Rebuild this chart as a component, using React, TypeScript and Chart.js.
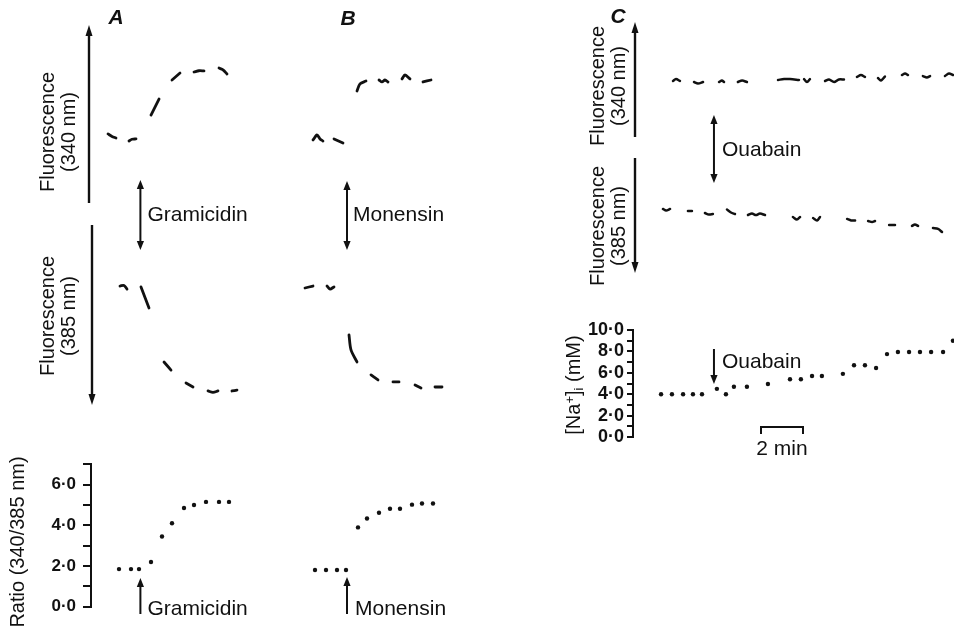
import React, { useEffect, useRef } from 'react';
import { Chart, registerables } from 'chart.js';

Chart.register(...registerables);

const INK = '#111111';
const FONT = "'Liberation Sans', Arial, Helvetica, sans-serif";
Chart.defaults.font.family = FONT;

type Pt = [number, number];

// ---------------- DATA ----------------
// Panel A – gramicidin (time in min, fluorescence in arbitrary units 0-100)
const gramicidin340: Pt[][] = [
  [[0.9, 38.8], [1.1, 37.4], [1.3, 36.5]],
  [[1.95, 34.8], [2.1, 35.8], [2.3, 36.0]],
  [[3.05, 49.4], [3.45, 58.4]],
  [[4.1, 69.1], [4.5, 73.0]],
  [[5.2, 73.6], [5.45, 74.3], [5.7, 74.2]],
  [[6.45, 75.8], [6.65, 74.8], [6.85, 72.5]],
];
const gramicidin385: Pt[][] = [
  [[1.5, 66.1], [1.7, 66.4], [1.85, 64.4]],
  [[2.55, 65.6], [2.95, 53.9]],
  [[3.7, 23.9], [4.05, 19.4]],
  [[4.8, 12.2], [5.15, 10.0]],
  [[5.9, 7.8], [6.15, 7.0], [6.4, 7.8]],
  [[7.1, 7.8], [7.35, 8.3]],
];
const gramicidinTime = [1.45, 2.05, 2.45, 3.05, 3.6, 4.1, 4.7, 5.2, 5.8, 6.45, 6.95];
const gramicidinRatio = [1.85, 1.85, 1.85, 2.2, 3.45, 4.1, 4.85, 5.0, 5.15, 5.15, 5.15];
const gramicidinAdded = 2.52;

// Panel B – monensin
const monensin340: Pt[][] = [
  [[0.65, 35.4], [0.85, 38.2], [1.0, 36.0], [1.15, 34.8]],
  [[1.7, 36.0], [2.15, 33.7]],
  [[2.85, 62.9], [3.0, 66.9], [3.3, 68.5]],
  [[3.95, 69.1], [4.1, 68.0], [4.25, 69.1], [4.4, 68.0]],
  [[5.1, 69.7], [5.25, 71.9], [5.5, 69.7]],
  [[6.15, 68.0], [6.55, 69.1]],
];
const monensin385: Pt[][] = [
  [[0.25, 65.0], [0.65, 66.1]],
  [[1.35, 66.1], [1.5, 64.4], [1.7, 65.6]],
  [[2.45, 38.9], [2.55, 30.6], [2.85, 23.9]],
  [[3.55, 16.7], [3.9, 13.9]],
  [[4.65, 12.8], [4.95, 12.8]],
  [[5.75, 11.1], [6.05, 9.4]],
  [[6.75, 10.0], [7.1, 10.0]],
];
const monensinTime = [0.75, 1.3, 1.85, 2.3, 2.9, 3.35, 3.95, 4.5, 5.0, 5.6, 6.1, 6.65];
const monensinRatio = [1.88, 1.88, 1.88, 1.88, 3.88, 4.3, 4.57, 4.76, 4.76, 4.95, 5.0, 5.0];
const monensinAdded = 2.35;

// Panel C – ouabain
const ouabain340: Pt[][] = [
  [[1.81, 48.7], [1.95, 50.4], [2.14, 48.7]],
  [[2.81, 47.8], [3.0, 46.5], [3.24, 47.8]],
  [[4.0, 47.8], [4.14, 49.1], [4.24, 47.8]],
  [[4.9, 47.8], [5.1, 49.1], [5.33, 47.8]],
  [[6.81, 49.6], [7.1, 50.4], [7.38, 50.4], [7.81, 49.6]],
  [[8.05, 50.4], [8.19, 47.8], [8.33, 50.4]],
  [[9.05, 48.7], [9.24, 50.0], [9.48, 47.8], [9.71, 50.0], [9.95, 50.0]],
  [[10.57, 52.2], [10.76, 53.9], [10.95, 52.2]],
  [[11.57, 51.3], [11.71, 49.1], [11.9, 52.6]],
  [[12.71, 53.9], [12.86, 55.2], [13.0, 53.9]],
  [[13.71, 53.0], [13.9, 51.7], [14.05, 53.0]],
  [[14.76, 53.0], [14.95, 55.2], [15.14, 53.9]],
];
const ouabain385: Pt[][] = [
  [[1.33, 55.7], [1.48, 54.3], [1.67, 55.7]],
  [[2.52, 53.9], [2.71, 53.9]],
  [[3.33, 52.2], [3.52, 50.8], [3.71, 51.3]],
  [[4.38, 55.2], [4.57, 52.6], [4.76, 51.3]],
  [[5.38, 50.4], [5.57, 51.7], [5.76, 50.4], [5.95, 51.7], [6.19, 50.4]],
  [[7.52, 48.7], [7.71, 46.5], [7.86, 48.7]],
  [[8.48, 47.8], [8.67, 45.7], [8.81, 48.7]],
  [[10.1, 47.0], [10.29, 45.7], [10.48, 45.7]],
  [[11.1, 45.2], [11.29, 44.3], [11.43, 45.2]],
  [[12.1, 41.7], [12.38, 41.7]],
  [[13.19, 40.9], [13.33, 42.2], [13.48, 40.9]],
  [[14.19, 39.1], [14.43, 38.3], [14.62, 35.7]],
];
const ouabainTime = [1.24, 1.76, 2.29, 2.76, 3.19, 3.9, 4.33, 4.71, 5.33, 6.33, 7.38, 7.9, 8.43, 8.9, 9.9, 10.43, 10.95, 11.48, 12.0, 12.52, 13.05, 13.57, 14.1, 14.67, 15.14];
const ouabainNa = [4.0, 4.0, 4.0, 4.0, 4.0, 4.5, 4.0, 4.7, 4.7, 4.95, 5.4, 5.4, 5.7, 5.7, 5.9, 6.7, 6.7, 6.45, 7.75, 7.95, 7.95, 7.95, 7.95, 7.95, 9.0];
const ouabainAdded = 3.76;

const ratioRange: [number, number] = [0, 7];
const naRange: [number, number] = [0, 10];
const fluorRange: [number, number] = [0, 100];
const scaleBarStart = 6;
const scaleBarMinutes = 2;

// ---------------- LAYOUT ----------------
type Col = { origin: number; ppm: number };
const COL_A: Col = { origin: 90, ppm: 20 };
const COL_B: Col = { origin: 300, ppm: 20 };
const COL_C: Col = { origin: 635, ppm: 21 };
const tx = (col: Col, t: number) => col.origin + col.ppm * t;

interface AxisSpec { width: number; size: number; tickLength: number; padding: number }
interface Spec {
  key: string;
  col: Col;
  area: { x0: number; x1: number; y0: number; y1: number };
  range: [number, number];
  segments?: Pt[][];
  lineWidth?: number;
  dotsX?: number[];
  dotsY?: number[];
  arrow?: 'up' | 'down';
  axis?: AxisSpec;
}

const SPECS: Spec[] = [
  { key: 'a340', col: COL_A, area: { x0: 89, x1: 250, y0: 25, y1: 203 }, range: fluorRange, segments: gramicidin340, arrow: 'up' },
  { key: 'a385', col: COL_A, area: { x0: 92, x1: 250, y0: 225, y1: 405 }, range: fluorRange, segments: gramicidin385, arrow: 'down' },
  { key: 'aR', col: COL_A, area: { x0: 91, x1: 250, y0: 461, y1: 610 }, range: ratioRange, dotsX: gramicidinTime, dotsY: gramicidinRatio, axis: { width: 60, size: 17, tickLength: 8, padding: 7 } },
  { key: 'b340', col: COL_B, area: { x0: 300, x1: 460, y0: 25, y1: 203 }, range: fluorRange, segments: monensin340 },
  { key: 'b385', col: COL_B, area: { x0: 300, x1: 460, y0: 225, y1: 405 }, range: fluorRange, segments: monensin385 },
  { key: 'bR', col: COL_B, area: { x0: 300, x1: 460, y0: 461, y1: 610 }, range: ratioRange, dotsX: monensinTime, dotsY: monensinRatio },
  { key: 'c340', col: COL_C, area: { x0: 635, x1: 954, y0: 22, y1: 137 }, range: fluorRange, segments: ouabain340, arrow: 'up', lineWidth: 2.5 },
  { key: 'c385', col: COL_C, area: { x0: 635, x1: 954, y0: 158, y1: 273 }, range: fluorRange, segments: ouabain385, arrow: 'down', lineWidth: 2.5 },
  { key: 'cNa', col: COL_C, area: { x0: 633, x1: 954, y0: 330, y1: 437 }, range: naRange, dotsX: ouabainTime, dotsY: ouabainNa, axis: { width: 60, size: 18, tickLength: 6, padding: 3 } },
];

const M = 10;
const VPAD = 14;
function geometry(s: Spec) {
  const { x0, x1, y0, y1 } = s.area;
  if (s.axis) {
    const W = s.axis.width;
    return { left: x0 - W, top: y0 - VPAD, width: W + (x1 - x0) + M, height: y1 - y0 + 2 * VPAD, padding: { left: 0, top: VPAD, right: M, bottom: VPAD } };
  }
  return { left: x0 - M, top: y0 - M, width: x1 - x0 + 2 * M, height: y1 - y0 + 2 * M, padding: { left: M, top: M, right: M, bottom: M } };
}

const axisArrowPlugin = {
  id: 'axisArrow',
  afterDatasetsDraw(chart: any, _args: any, opts: any) {
    if (!opts || !opts.dir) return;
    const { ctx, chartArea: a } = chart;
    const x = a.left;
    const up = opts.dir === 'up';
    const tip = up ? a.top : a.bottom;
    const tail = up ? a.bottom : a.top;
    const s = up ? 1 : -1;
    ctx.save();
    ctx.strokeStyle = INK;
    ctx.fillStyle = INK;
    ctx.lineWidth = 2.4;
    ctx.beginPath();
    ctx.moveTo(x, tail);
    ctx.lineTo(x, tip + s * 6);
    ctx.stroke();
    ctx.beginPath();
    ctx.moveTo(x, tip);
    ctx.lineTo(x - 3.5, tip + s * 11);
    ctx.lineTo(x + 3.5, tip + s * 11);
    ctx.closePath();
    ctx.fill();
    ctx.restore();
  },
};

function buildConfig(s: Spec, g: ReturnType<typeof geometry>): any {
  const xMin = (s.area.x0 - s.col.origin) / s.col.ppm;
  const xMax = (s.area.x1 - s.col.origin) / s.col.ppm;
  const datasets: any[] = [];
  (s.segments || []).forEach((seg) =>
    datasets.push({
      data: seg.map(([x, y]) => ({ x, y })),
      showLine: true,
      borderColor: INK,
      borderWidth: s.lineWidth || 2.8,
      pointRadius: 0,
      pointHoverRadius: 0,
      tension: 0.3,
      borderCapStyle: 'round',
      borderJoinStyle: 'round',
      fill: false,
      clip: false,
    })
  );
  if (s.dotsX && s.dotsY) {
    const ys = s.dotsY;
    datasets.push({
      data: s.dotsX.map((x, i) => ({ x, y: ys[i] })),
      showLine: false,
      pointRadius: 2.2,
      pointHoverRadius: 2.2,
      pointBackgroundColor: INK,
      pointBorderWidth: 0,
      clip: false,
    });
  }
  const yScale: any = s.axis
    ? {
        type: 'linear',
        min: s.range[0],
        max: s.range[1],
        afterFit: (sc: any) => {
          sc.width = s.axis!.width;
        },
        border: { display: true, color: INK, width: 2 },
        grid: { display: true, drawOnChartArea: false, drawTicks: true, tickLength: s.axis.tickLength, color: INK, lineWidth: 2 },
        ticks: {
          stepSize: 1,
          autoSkip: false,
          color: INK,
          padding: s.axis.padding,
          font: { size: s.axis.size, weight: 'bold', family: FONT },
          callback: (v: any) => (Number(v) % 2 === 0 ? `${v}\u00B70` : ''),
        },
      }
    : { type: 'linear', display: false, min: s.range[0], max: s.range[1] };
  return {
    type: 'scatter',
    data: { datasets },
    options: {
      responsive: false,
      animation: false,
      events: [],
      layout: { padding: g.padding },
      scales: {
        x: { type: 'linear', display: false, min: xMin, max: xMax },
        y: yScale,
      },
      plugins: {
        legend: { display: false },
        tooltip: { enabled: false },
        axisArrow: { dir: s.arrow || null },
      },
    },
    plugins: [axisArrowPlugin],
  };
}

function ChartPanel({ spec }: { spec: Spec }) {
  const ref = useRef<HTMLCanvasElement>(null);
  const g = geometry(spec);
  useEffect(() => {
    if (!ref.current) return;
    const chart = new Chart(ref.current, buildConfig(spec, g));
    return () => chart.destroy();
  }, []);
  return (
    <canvas
      ref={ref}
      width={g.width}
      height={g.height}
      style={{ position: 'absolute', left: g.left, top: g.top, width: g.width, height: g.height }}
    />
  );
}

// ---------------- ANNOTATIONS ----------------
const HL = 9;
const HW = 3.6;
function headPts(x: number, y: number, dir: number) {
  return `${x},${y} ${x - HW},${y - dir * HL} ${x + HW},${y - dir * HL}`;
}
function SingleArrow({ x, tail, tip }: { x: number; tail: number; tip: number }) {
  const dir = Math.sign(tip - tail);
  return (
    <g>
      <line x1={x} y1={tail} x2={x} y2={tip - dir * 5} stroke={INK} strokeWidth={2} />
      <polygon points={headPts(x, tip, dir)} fill={INK} />
    </g>
  );
}
function DoubleArrow({ x, top, bottom }: { x: number; top: number; bottom: number }) {
  return (
    <g>
      <line x1={x} y1={top + 5} x2={x} y2={bottom - 5} stroke={INK} strokeWidth={2} />
      <polygon points={headPts(x, top, -1)} fill={INK} />
      <polygon points={headPts(x, bottom, 1)} fill={INK} />
    </g>
  );
}

function Txt({ x, y, children, size = 21, anchor = 'left', style }: any) {
  const tr = anchor === 'center' ? 'translate(-50%,-50%)' : 'translate(0,-50%)';
  return (
    <div
      style={{
        position: 'absolute',
        left: x,
        top: y,
        transform: tr,
        fontSize: size,
        lineHeight: 1,
        whiteSpace: 'pre',
        fontFamily: FONT,
        color: INK,
        ...style,
      }}
    >
      {children}
    </div>
  );
}

function VTxt({ x, y, children, size = 20, lh = 21 }: any) {
  return (
    <div
      style={{
        position: 'absolute',
        left: x,
        top: y,
        transform: 'translate(-50%,-50%) rotate(-90deg)',
        fontSize: size,
        lineHeight: `${lh}px`,
        whiteSpace: 'pre',
        textAlign: 'center',
        fontFamily: FONT,
        color: INK,
      }}
    >
      {children}
    </div>
  );
}

export default function App() {
  const xa = tx(COL_A, gramicidinAdded);
  const xb = tx(COL_B, monensinAdded);
  const xc = tx(COL_C, ouabainAdded);
  const sb0 = tx(COL_C, scaleBarStart);
  const sb1 = tx(COL_C, scaleBarStart + scaleBarMinutes);
  const letter = { fontWeight: 'bold', fontStyle: 'italic' };
  return (
    <div
      style={{
        position: 'absolute',
        left: 0,
        top: 0,
        width: 954,
        height: 637,
        overflow: 'hidden',
        background: '#ffffff',
      }}
    >
      {SPECS.map((s) => (
        <ChartPanel key={s.key} spec={s} />
      ))}
      <svg width={954} height={637} style={{ position: 'absolute', left: 0, top: 0 }}>
        <DoubleArrow x={xa} top={180} bottom={250} />
        <DoubleArrow x={xb} top={181} bottom={250} />
        <DoubleArrow x={xc} top={115} bottom={183} />
        <SingleArrow x={xa} tail={614} tip={578} />
        <SingleArrow x={xb} tail={614} tip={577} />
        <SingleArrow x={xc} tail={349} tip={384} />
        <path d={`M${sb0},434 L${sb0},427 L${sb1},427 L${sb1},434`} stroke={INK} strokeWidth={2} fill="none" />
      </svg>

      <Txt x={116} y={16} anchor="center" size={21} style={letter}>A</Txt>
      <Txt x={348} y={17} anchor="center" size={21} style={letter}>B</Txt>
      <Txt x={618} y={15} anchor="center" size={21} style={letter}>C</Txt>

      <VTxt x={58} y={132}>{'Fluorescence\n(340 nm)'}</VTxt>
      <VTxt x={58} y={316}>{'Fluorescence\n(385 nm)'}</VTxt>
      <VTxt x={17} y={542}>Ratio (340/385 nm)</VTxt>
      <VTxt x={608} y={86}>{'Fluorescence\n(340 nm)'}</VTxt>
      <VTxt x={608} y={226}>{'Fluorescence\n(385 nm)'}</VTxt>
      <VTxt x={573} y={385}>
        <span>
          [Na<span style={{ fontSize: 13, verticalAlign: '0.45em', lineHeight: 0 }}>+</span>]
          <span style={{ fontSize: 13, verticalAlign: '-0.3em', lineHeight: 0 }}>i</span> (mM)
        </span>
      </VTxt>

      <Txt x={xa + 7} y={213}>Gramicidin</Txt>
      <Txt x={xb + 6} y={213}>Monensin</Txt>
      <Txt x={xc + 8} y={148}>Ouabain</Txt>
      <Txt x={xa + 7} y={607}>Gramicidin</Txt>
      <Txt x={xb + 8} y={607}>Monensin</Txt>
      <Txt x={xc + 8} y={360}>Ouabain</Txt>
      <Txt x={(sb0 + sb1) / 2} y={447} anchor="center">2 min</Txt>
    </div>
  );
}
